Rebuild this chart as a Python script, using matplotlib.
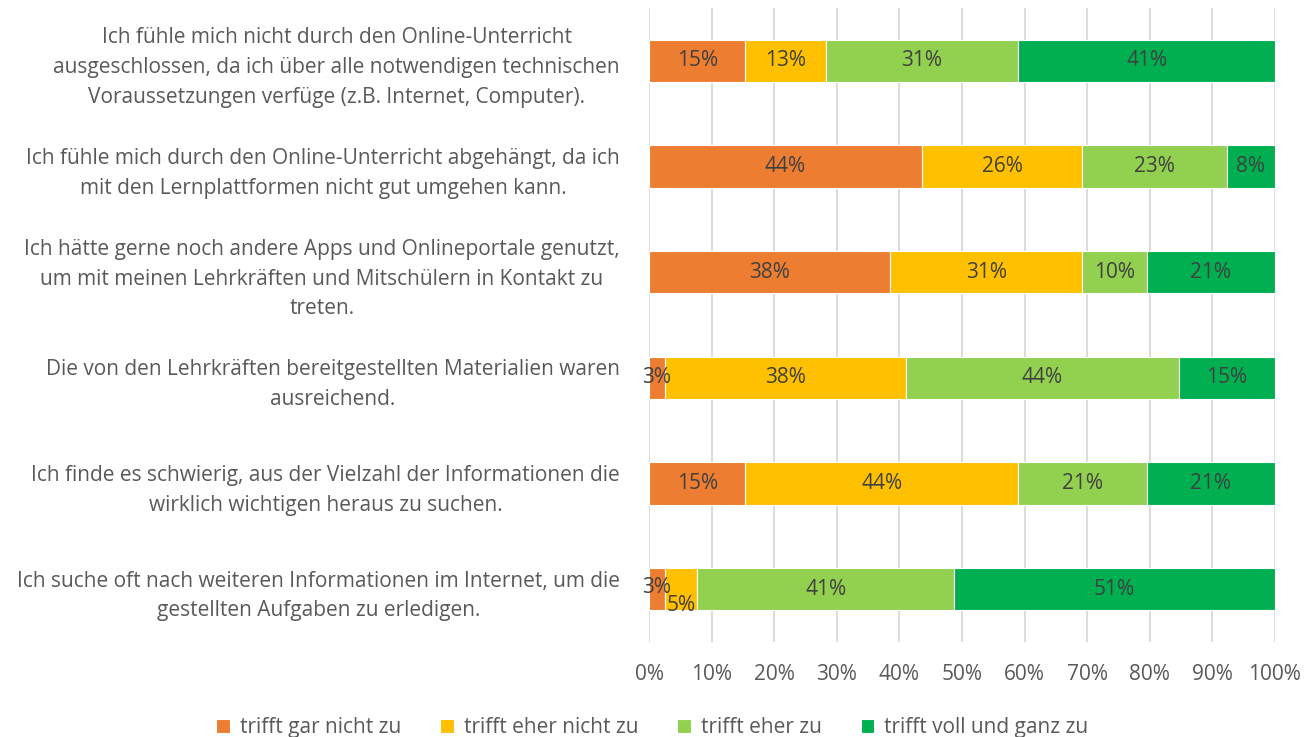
import matplotlib
matplotlib.use("Agg")
import matplotlib.pyplot as plt
import numpy as np

plt.rcParams['font.family'] = ['Open Sans', 'DejaVu Sans']

categories = [
    "Ich fühle mich nicht durch den Online-Unterricht\nausgeschlossen, da ich über alle notwendigen technischen\nVoraussetzungen verfüge (z.B. Internet, Computer).",
    "Ich fühle mich durch den Online-Unterricht abgehängt, da ich\nmit den Lernplattformen nicht gut umgehen kann.",
    "Ich hätte gerne noch andere Apps und Onlineportale genutzt,\num mit meinen Lehrkräften und Mitschülern in Kontakt zu\ntreten.",
    "Die von den Lehrkräften bereitgestellten Materialien waren\nausreichend.",
    "Ich finde es schwierig, aus der Vielzahl der Informationen die\nwirklich wichtigen heraus zu suchen.",
    "Ich suche oft nach weiteren Informationen im Internet, um die\ngestellten Aufgaben zu erledigen.",
]
series_names = ["trifft gar nicht zu", "trifft eher nicht zu", "trifft eher zu", "trifft voll und ganz zu"]
gar_nicht = [15.38, 43.59, 38.46, 2.56, 15.38, 2.56]
eher_nicht = [12.82, 25.64, 30.77, 38.46, 43.59, 5.13]
eher_zu = [30.77, 23.08, 10.26, 43.59, 20.51, 41.03]
voll = [41.03, 7.69, 20.51, 15.38, 20.51, 51.28]
colors = ["#ED7D31", "#FFC000", "#92D050", "#00B050"]
xticks = list(range(0, 101, 10))

data = np.array([gar_nicht, eher_nicht, eher_zu, voll])
FS = 15

fig = plt.figure(figsize=(13.05, 7.37), dpi=100)
ax = fig.add_axes([649/1305, 1-642/737, (1275-649)/1305, (642-8)/737])

y = np.arange(len(categories))
left = np.zeros(len(categories))
text_color = "#404040"
for i, (name, vals) in enumerate(zip(series_names, data)):
    ax.barh(y, vals, left=left, height=0.4, color=colors[i], label=name,
            edgecolor="white", linewidth=0.8, zorder=2)
    for j, v in enumerate(vals):
        cx = left[j] + v / 2
        cy = y[j]
        if j == 5 and i == 0:
            cy -= 0.02
        if j == 5 and i == 1:
            cy += 0.15
        ax.text(cx, cy, f"{v:.0f}%", ha="center", va="center", fontsize=FS,
                color=text_color, zorder=3)
    left = left + vals

ax.set_xlim(0, 100)
ax.set_ylim(len(categories) - 0.5, -0.5)
ax.set_xticks(xticks)
ax.set_xticklabels([f"{t}%" for t in xticks], fontsize=FS, color="#595959")
ax.set_yticks(y)
ax.set_yticklabels(categories, fontsize=FS, color="#595959", ha="right",
                   multialignment="center", linespacing=1.55)
ax.tick_params(axis="y", length=0, pad=21)
ax.tick_params(axis="x", length=0, pad=16)
ax.grid(axis="x", color="#D9D9D9", linewidth=1.3, zorder=0)
ax.set_axisbelow(True)
for s in ax.spines.values():
    s.set_visible(False)

handles, labels = ax.get_legend_handles_labels()
fig.legend(handles, labels, loc="lower center", bbox_to_anchor=(0.5, -0.027), ncol=4,
           frameon=False, fontsize=FS, handlelength=0.65, handleheight=0.65,
           handletextpad=0.5, columnspacing=1.85, labelcolor="#595959")

fig.savefig("out.png", dpi=100)
